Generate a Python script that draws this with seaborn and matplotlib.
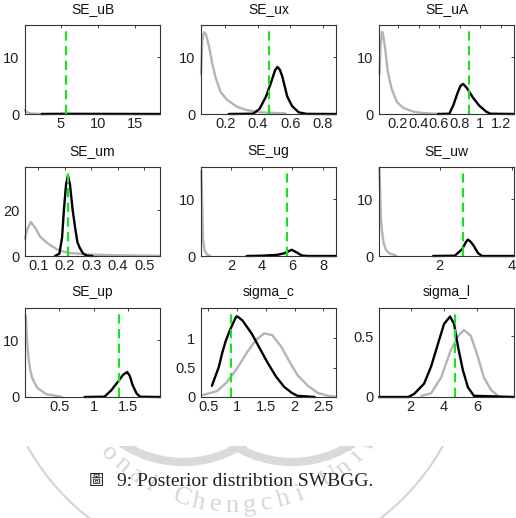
import matplotlib
matplotlib.use("Agg")
import matplotlib.pyplot as plt
import seaborn as sns
import numpy as np
from matplotlib.patches import Circle, Arc
from matplotlib.ticker import FuncFormatter

# ---------------- data ----------------
titles = ["SE_uB", "SE_ux", "SE_uA", "SE_um", "SE_ug", "SE_uw", "SE_up", "sigma_c", "sigma_l"]

uB_prior_x = [0.13, 0.3, 0.6, 1.0, 1.6, 2.5]
uB_prior_y = [0.7, 0.4, 0.2, 0.1, 0.05, 0.02]
uB_post_x = [2.4, 4, 6, 10, 14, 18.4]
uB_post_y = [0, 0.02, 0.03, 0.02, 0.01, 0]
uB_mode = 5.7

ux_prior_x = [0.05, 0.058, 0.068, 0.08, 0.10, 0.12, 0.14, 0.17, 0.21, 0.27, 0.33, 0.41, 0.57]
ux_prior_y = [7.0, 13.0, 14.4, 14.1, 11.8, 8.8, 6.4, 3.9, 2.5, 1.3, 0.7, 0.3, 0.1]
ux_post_x = [0.22, 0.37, 0.41, 0.45, 0.48, 0.505, 0.52, 0.535, 0.55, 0.58, 0.61, 0.65, 0.70, 0.88]
ux_post_y = [0, 0.05, 0.9, 3.1, 5.5, 7.7, 8.3, 7.8, 6.6, 3.1, 1.4, 0.3, 0.02, 0]
ux_mode = 0.47

uA_prior_x = [0.02, 0.03, 0.045, 0.055, 0.07, 0.10, 0.14, 0.19, 0.25, 0.35, 0.45, 0.60]
uA_prior_y = [7.0, 12.0, 14.5, 14.0, 12.3, 7.5, 4.3, 2.1, 1.1, 0.4, 0.15, 0.03]
uA_post_x = [0.59, 0.70, 0.74, 0.78, 0.81, 0.835, 0.87, 0.93, 0.99, 1.06, 1.10, 1.33]
uA_post_y = [0, 0.05, 1.6, 3.7, 5.0, 5.3, 4.6, 2.9, 1.5, 0.4, 0.05, 0]
uA_mode = 0.89

um_prior_x = [0.05, 0.06, 0.072, 0.09, 0.107, 0.134, 0.157, 0.18, 0.22, 0.30, 0.40, 0.56]
um_prior_y = [7.5, 12.0, 14.8, 12.0, 8.4, 5.6, 3.9, 2.3, 1.3, 0.6, 0.3, 0.1]
um_post_x = [0.163, 0.18, 0.19, 0.197, 0.205, 0.212, 0.22, 0.23, 0.239, 0.248, 0.257, 0.27, 0.285, 0.305]
um_post_y = [0, 1.0, 8, 20, 31, 35, 31, 20, 12.6, 6, 3.5, 1, 0.1, 0]
um_mode = 0.212

ug_prior_x = [0.04, 0.1, 0.15, 0.25, 0.4, 0.6]
ug_prior_y = [15.0, 9.0, 3.0, 1.0, 0.3, 0.05]
ug_post_x = [3.0, 4.0, 5.0, 5.5, 5.95, 6.3, 6.6, 7.0, 8.85]
ug_post_y = [0, 0.05, 0.2, 0.5, 1.1, 0.6, 0.1, 0, 0]
ug_mode = 5.67

uw_prior_x = [0.34, 0.36, 0.38, 0.41, 0.46, 0.52, 0.62, 0.80]
uw_prior_y = [15.5, 12.0, 7.0, 4.5, 2.2, 1.1, 0.45, 0.1]
uw_post_x = [1.82, 2.42, 2.62, 2.72, 2.78, 2.84, 2.92, 3.06, 3.17, 4.05]
uw_post_y = [0, 0.05, 1.2, 2.4, 2.9, 2.6, 2.0, 0.5, 0, 0]
uw_mode = 2.64

up_prior_x = [0.012, 0.03, 0.05, 0.08, 0.11, 0.18, 0.31, 0.53]
up_prior_y = [14.4, 10.0, 7.0, 4.5, 3.2, 1.6, 0.5, 0.05]
up_post_x = [0.87, 1.16, 1.26, 1.35, 1.43, 1.49, 1.53, 1.57, 1.63, 1.68, 1.97]
up_post_y = [0, 0.05, 1.2, 2.6, 3.9, 4.4, 3.7, 2.1, 0.6, 0.05, 0]
up_mode = 1.37

sc_prior_x = [0.39, 0.65, 0.82, 1.0, 1.18, 1.33, 1.47, 1.61, 1.77, 1.91, 2.05, 2.23, 2.40, 2.58, 2.70]
sc_prior_y = [0.03, 0.10, 0.25, 0.49, 0.77, 0.97, 1.08, 1.05, 0.85, 0.60, 0.37, 0.19, 0.07, 0.02, 0.01]
sc_post_x = [0.56, 0.68, 0.74, 0.80, 0.88, 0.98, 1.0, 1.09, 1.25, 1.39, 1.53, 1.68, 1.82, 1.95, 2.05, 2.35]
sc_post_y = [0.19, 0.51, 0.75, 0.95, 1.15, 1.36, 1.37, 1.30, 1.08, 0.83, 0.58, 0.34, 0.17, 0.07, 0.02, 0.0]
sc_mode = 0.89

sl_prior_x = [2.63, 3.22, 3.82, 4.42, 4.84, 5.19, 5.61, 6.03, 6.39, 6.81, 7.22]
sl_prior_y = [0.01, 0.03, 0.16, 0.39, 0.50, 0.55, 0.50, 0.33, 0.16, 0.06, 0.01]
sl_post_x = [0.1, 1.85, 2.2, 2.8, 3.22, 3.64, 4.0, 4.36, 4.6, 4.84, 5.13, 5.43, 5.79, 8.2]
sl_post_y = [0, 0, 0.025, 0.11, 0.25, 0.44, 0.60, 0.66, 0.60, 0.41, 0.22, 0.08, 0.01, 0]
sl_mode = 4.65

xlims = [(0.13, 18.4), (0.05, 0.88), (0.015, 1.33), (0.05, 0.56), (0.02, 8.85),
         (0.33, 4.05), (0.0, 1.97), (0.37, 2.72), (0.09, 8.2)]
ylims = [15.7, 15.7, 15.7, 38.7, 15.7, 15.7, 15.7, 1.51, 0.73]
xticks = [[5, 10, 15], [0.2, 0.4, 0.6, 0.8], [0.2, 0.4, 0.6, 0.8, 1, 1.2],
          [0.1, 0.2, 0.3, 0.4, 0.5], [2, 4, 6, 8], [2, 4], [0.5, 1, 1.5],
          [0.5, 1, 1.5, 2, 2.5], [2, 4, 6]]
yticks = [[0, 10], [0, 10], [0, 10], [0, 20], [0, 10], [0, 10], [0, 10],
          [0, 0.5, 1], [0, 0.5]]

panels = [
    (uB_prior_x, uB_prior_y, uB_post_x, uB_post_y, uB_mode),
    (ux_prior_x, ux_prior_y, ux_post_x, ux_post_y, ux_mode),
    (uA_prior_x, uA_prior_y, uA_post_x, uA_post_y, uA_mode),
    (um_prior_x, um_prior_y, um_post_x, um_post_y, um_mode),
    (ug_prior_x, ug_prior_y, ug_post_x, ug_post_y, ug_mode),
    (uw_prior_x, uw_prior_y, uw_post_x, uw_post_y, uw_mode),
    (up_prior_x, up_prior_y, up_post_x, up_post_y, up_mode),
    (sc_prior_x, sc_prior_y, sc_post_x, sc_post_y, sc_mode),
    (sl_prior_x, sl_prior_y, sl_post_x, sl_post_y, sl_mode),
]

# ---------------- style ----------------
sns.set_theme(style="white")
plt.rcParams["font.family"] = ["Liberation Sans", "DejaVu Sans"]

W, H = 516, 518
fig = plt.figure(figsize=(W / 100, H / 100), dpi=100)
fig.patch.set_facecolor("white")

# faint seal watermark (only visible below the chart image)
wtop = 446
wm = fig.add_axes([0, 0, 1, (H - wtop) / H], zorder=0)
wm.set_xlim(0, W)
wm.set_ylim(H, wtop)
wm.axis("off")
wmc = "#d6d6d6"
cx, cy = 235, 330
wm.add_patch(Circle((cx, cy), 238, fill=False, ec=wmc, lw=1.6))
wm.add_patch(Arc((183, 352), 220, 220, theta1=0, theta2=180, ec="#dadada", lw=6))
wm.add_patch(Arc((292, 352), 220, 220, theta1=0, theta2=180, ec="#dadada", lw=6))
word = "National Chengchi University"
for i, ch in enumerate(word):
    th = np.deg2rad(-158 + 5.6 * i)
    px = cx + 176 * np.cos(th)
    py = cy - 176 * np.sin(th)
    wm.text(px, py, ch, rotation=np.rad2deg(th) + 90, ha="center", va="center",
            fontsize=19, color=wmc, family=["Liberation Serif"], clip_on=True)

lefts = [25, 201, 379]
tops = [25, 167, 308]
aw, ah = 135, 89
fmt = FuncFormatter(lambda v, p: ("%g" % v))

for k, (prx, pry, pox, poy, mode) in enumerate(panels):
    r, c = divmod(k, 3)
    ax = fig.add_axes([lefts[c] / W, 1 - (tops[r] + ah) / H, aw / W, ah / H], zorder=2)
    ax.set_facecolor("white")
    sns.lineplot(x=prx, y=pry, ax=ax, color="#b4b4b4", linewidth=1.7, clip_on=False)
    sns.lineplot(x=pox, y=poy, ax=ax, color="black", linewidth=1.7, clip_on=False)
    ax.axvline(mode, color="#1fe01f", linewidth=1.6, dashes=(4.2, 2.4))
    ax.set_xlim(*xlims[k])
    ax.set_ylim(0, ylims[k])
    ax.set_xticks(xticks[k])
    ax.set_yticks(yticks[k])
    ax.xaxis.set_major_formatter(fmt)
    ax.yaxis.set_major_formatter(fmt)
    ax.tick_params(direction="in", length=2.5, width=0.6, top=True, right=True,
                   labelsize=10.5, colors="#222222")
    ax.tick_params(axis="x", pad=2.5)
    ax.tick_params(axis="y", pad=4)
    for s in ax.spines.values():
        s.set_color("#333333")
        s.set_linewidth(0.8)
    ax.set_title(titles[k], fontsize=10, pad=8.5, color="#111111")

# caption
fig.text(96 / W, 1 - 481 / H, "圖", ha="center", va="center", fontsize=11,
         family=["Noto Sans CJK TC"], color="#222222")
fig.text(117 / W, 1 - 481 / H, "9: Posterior distribtion SWBGG.", ha="left", va="center",
         fontsize=14, family=["Liberation Serif", "DejaVu Serif"], color="#222222")

fig.savefig("out.png", dpi=100, facecolor="white")
